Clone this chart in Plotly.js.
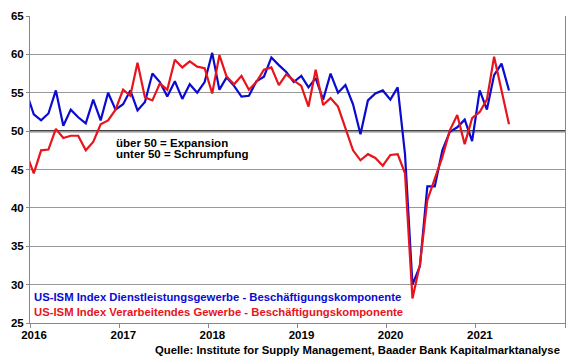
<!DOCTYPE html>
<html>
<head>
<meta charset="utf-8">
<script src="https://cdn.plot.ly/plotly-3.0.1.min.js"></script>
<style>html,body{margin:0;padding:0;background:#fff;}#chart{width:580px;height:359px;}</style>
</head>
<body>
<div id="chart"></div>
<script>
const months = [
 '2015-12',
 '2016-01','2016-02','2016-03','2016-04','2016-05','2016-06','2016-07','2016-08','2016-09','2016-10','2016-11','2016-12',
 '2017-01','2017-02','2017-03','2017-04','2017-05','2017-06','2017-07','2017-08','2017-09','2017-10','2017-11','2017-12',
 '2018-01','2018-02','2018-03','2018-04','2018-05','2018-06','2018-07','2018-08','2018-09','2018-10','2018-11','2018-12',
 '2019-01','2019-02','2019-03','2019-04','2019-05','2019-06','2019-07','2019-08','2019-09','2019-10','2019-11','2019-12',
 '2020-01','2020-02','2020-03','2020-04','2020-05','2020-06','2020-07','2020-08','2020-09','2020-10','2020-11','2020-12',
 '2021-01','2021-02','2021-03','2021-04','2021-05'
];
const services = [
 55.1,
 52.2,51.4,52.3,55.3,50.7,52.8,51.8,51.0,54.1,51.4,55.0,52.8,
 53.5,55.3,52.7,53.8,57.5,56.4,54.5,56.5,54.2,56.1,55.0,56.4,
 60.2,55.4,57.0,55.9,54.5,54.6,56.5,57.1,59.6,58.6,57.7,56.4,
 57.2,55.7,56.9,54.1,57.5,55.0,56.0,53.5,49.6,54.0,54.9,55.3,
 54.1,55.7,47.0,30.0,32.4,42.8,42.8,47.5,49.9,50.5,51.5,48.7,
 55.3,52.8,57.3,58.8,55.3
];
const manufacturing = [
 47.1,
 44.5,47.5,47.6,50.3,49.1,49.4,49.4,47.5,48.6,50.9,51.4,52.8,
 55.4,54.6,58.9,54.4,54.0,56.2,55.4,59.3,58.3,59.1,58.4,58.2,
 54.9,59.9,57.1,56.1,57.2,55.4,56.4,58.0,58.3,56.0,57.4,56.6,
 55.9,53.2,58.0,53.4,54.3,53.2,50.4,47.5,46.2,47.0,46.5,45.5,
 46.9,47.0,44.5,28.2,32.6,41.0,43.8,46.6,50.1,52.1,48.3,51.7,
 52.5,54.1,59.7,55.4,50.9
];
const yearTicks = ['2016-01-01','2017-01-01','2018-01-01','2019-01-01','2020-01-01','2021-01-01','2022-01-01'];
const yearLabels = ['2016','2017','2018','2019','2020','2021',''];
const seriesNames = [
 'US-ISM Index Dienstleistungsgewerbe - Beschäftigungskomponente',
 'US-ISM Index Verarbeitendes Gewerbe - Beschäftigungskomponente'
];
const noteLines = ['über 50 = Expansion', 'unter 50 = Schrumpfung'];
const sourceText = 'Quelle: Institute for Supply Management, Baader Bank Kapitalmarktanalyse';
const threshold = 50;

const FONT = 'Liberation Sans, Arial, sans-serif';
const BLUE = '#0a0ad0';
const RED = '#e8141c';

const traces = [
 {x: months, y: services, name: seriesNames[0], type: 'scatter', mode: 'lines',
  xperiod: 'M1', xperiodalignment: 'middle', line: {color: BLUE, width: 2.2}},
 {x: months, y: manufacturing, name: seriesNames[1], type: 'scatter', mode: 'lines',
  xperiod: 'M1', xperiodalignment: 'middle', line: {color: RED, width: 2.2}}
];

const layout = {
 width: 580, height: 359,
 margin: {l: 30, r: 15, t: 16, b: 36},
 paper_bgcolor: '#fff', plot_bgcolor: '#fff',
 showlegend: false,
 font: {family: FONT, size: 11, color: '#000', weight: 700},
 xaxis: {
  type: 'date', range: ['2016-01-01', '2022-01-01'],
  tickvals: yearTicks, ticktext: yearLabels,
  ticks: 'outside', ticklen: 4, tickcolor: '#888', tickwidth: 1,
  showgrid: false, zeroline: false,
  showline: true, linecolor: '#888', linewidth: 1,
  tickfont: {family: FONT, size: 11.5, color: '#000', weight: 700},
  ticklabelshift: 4, ticklabelstandoff: -3
 },
 yaxis: {
  range: [25, 65], dtick: 5, tick0: 25,
  ticks: 'outside', ticklen: 3, tickcolor: '#888',
  showgrid: true, gridcolor: '#999', gridwidth: 1,
  zeroline: false,
  showline: true, linecolor: '#888', linewidth: 1, mirror: true,
  tickfont: {family: FONT, size: 11.5, color: '#000', weight: 700}
 },
 shapes: [
  {type: 'line', xref: 'paper', x0: 0, x1: 1, yref: 'y', y0: threshold, y1: threshold,
   line: {color: '#000', width: 2}, layer: 'below'}
 ],
 annotations: [
  {xref: 'paper', yref: 'y', x: 0.157, y: 48.4, xanchor: 'left', yanchor: 'middle',
   text: noteLines[0], showarrow: false, font: {family: FONT, size: 11.5, color: '#000', weight: 700}},
  {xref: 'paper', yref: 'y', x: 0.157, y: 47.0, xanchor: 'left', yanchor: 'middle',
   text: noteLines[1], showarrow: false, font: {family: FONT, size: 11.5, color: '#000', weight: 700}},
  {xref: 'paper', yref: 'y', x: 0.003, y: 28.45, xanchor: 'left', yanchor: 'middle',
   text: seriesNames[0], showarrow: false, font: {family: FONT, size: 11.3, color: BLUE, weight: 700}},
  {xref: 'paper', yref: 'y', x: 0.003, y: 26.4, xanchor: 'left', yanchor: 'middle',
   text: seriesNames[1], showarrow: false, font: {family: FONT, size: 11.3, color: RED, weight: 700}},
  {xref: 'paper', yref: 'paper', x: (562 - 30) / 535, y: -27 / 307, xanchor: 'right', yanchor: 'middle',
   text: sourceText, showarrow: false, font: {family: FONT, size: 11.3, color: '#000', weight: 700}}
 ]
};

Plotly.newPlot('chart', traces, layout, {staticPlot: true, displayModeBar: false});
</script>
</body>
</html>
